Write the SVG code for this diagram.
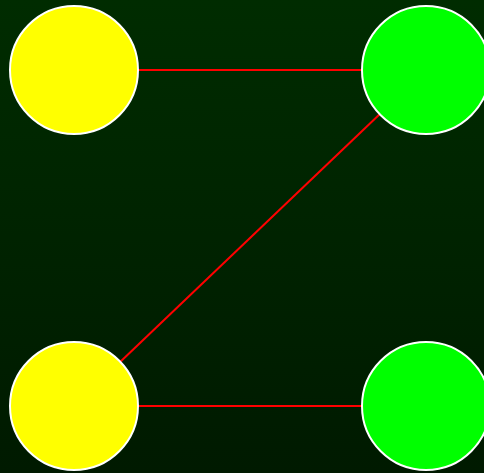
<svg xmlns="http://www.w3.org/2000/svg" width="484" height="473" viewBox="0 0 484 473">
<defs>
<linearGradient id="bg" x1="0" y1="0" x2="0" y2="1">
<stop offset="0" stop-color="#002c00"/>
<stop offset="1" stop-color="#001a00"/>
</linearGradient>
<style>
.edge{stroke:#ff0000;stroke-width:2;fill:none}
.node circle{stroke:#ffffff;stroke-width:2}
.y{fill:#ffff00}
.g{fill:#00ff00}
</style>
</defs>
<rect width="484" height="473" fill="url(#bg)"/>
<g id="edges">
<line class="edge" x1="74" y1="70" x2="426" y2="70"/>
<line class="edge" x1="426" y1="70" x2="74" y2="406"/>
<line class="edge" x1="74" y1="406" x2="426" y2="406"/>
</g>
<g id="n1" class="node"><circle class="y" cx="74" cy="70" r="64"/></g>
<g id="n2" class="node"><circle class="g" cx="426" cy="70" r="64"/></g>
<g id="n3" class="node"><circle class="y" cx="74" cy="406" r="64"/></g>
<g id="n4" class="node"><circle class="g" cx="426" cy="406" r="64"/></g>
</svg>
